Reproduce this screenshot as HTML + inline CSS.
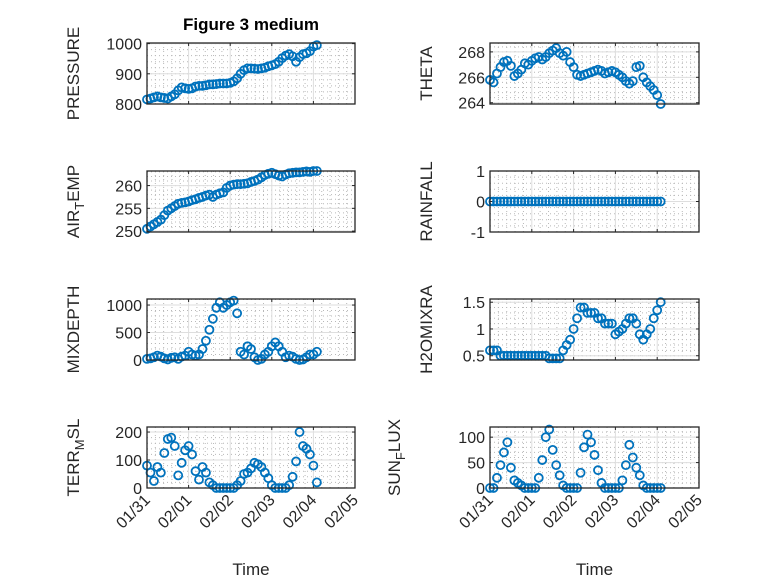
<!DOCTYPE html>
<html><head><meta charset="utf-8"><style>
body{margin:0;background:#fff}
svg{display:block;font-family:"Liberation Sans",sans-serif}
</style></head><body>
<svg id="fig" width="778" height="583" viewBox="0 0 778 583" xmlns="http://www.w3.org/2000/svg">
<rect width="778" height="583" fill="#fff"/>
<text x="251" y="30" text-anchor="middle" font-weight="bold" font-size="17" fill="#000">Figure 3 medium</text>
</svg>
<script>
const hours = Array.from({length:50},(_,i)=>i*2);
const pressure = [815,818,822,825,822,820,818,825,832,845,855,852,850,852,858,860,860,862,865,865,866,868,868,868,870,875,885,900,912,918,918,917,916,918,920,925,928,932,940,952,960,965,958,940,955,965,968,975,990,995];
const airTemp = [250.5,251,251.5,252,252.5,253.5,254.5,255,255.5,256,256.2,256.3,256.5,256.8,257,257.3,257.5,257.8,258,257.5,258,258.3,258.5,259.5,260,260.2,260.3,260.3,260.4,260.5,260.8,261,261.3,261.8,262.3,262.6,262.8,262.5,262.2,262,262.4,262.7,262.8,262.9,262.9,263,263.1,263,263.2,263.2];
const mixDepth = [20,30,50,80,60,30,10,40,50,20,60,80,150,100,80,100,200,350,550,750,950,1050,950,1000,1050,1080,850,150,100,250,200,50,0,20,100,150,250,320,250,150,50,80,60,20,0,10,50,100,100,150];
const terrMsl = [80,55,25,75,55,125,175,180,150,45,90,135,150,120,60,30,75,55,20,10,0,0,0,0,0,0,10,25,50,55,70,90,85,75,55,35,10,0,0,0,0,10,40,95,200,150,140,120,80,20];
const theta = [265.8,265.6,266.3,266.8,267.2,267.3,266.9,266.1,266.3,266.6,267.1,267.0,267.3,267.5,267.6,267.4,267.6,267.9,268.1,268.3,267.9,267.7,268.0,267.2,266.8,266.2,266.1,266.2,266.3,266.4,266.5,266.6,266.5,266.3,266.4,266.5,266.4,266.2,266.0,265.7,265.5,265.7,266.8,266.9,266.0,265.6,265.3,265.0,264.6,263.9];
const rainfall = new Array(50).fill(0);
const h2o = [0.6,0.6,0.6,0.5,0.5,0.5,0.5,0.5,0.5,0.5,0.5,0.5,0.5,0.5,0.5,0.5,0.5,0.45,0.45,0.45,0.45,0.6,0.7,0.8,1.0,1.2,1.4,1.4,1.3,1.3,1.3,1.2,1.2,1.1,1.1,1.1,0.9,0.95,1.0,1.1,1.2,1.2,1.1,0.9,0.8,0.9,1.0,1.2,1.35,1.5];
const sunFlux = [0,0,20,45,70,90,40,15,10,5,0,0,0,0,20,55,100,115,75,45,25,5,0,0,0,0,30,80,105,90,65,35,10,0,0,0,0,0,15,45,85,60,40,25,5,0,0,0,0,0];
const xTickLabels = ["01/31","02/01","02/02","02/03","02/04","02/05"];

const NS="http://www.w3.org/2000/svg";
const svg=document.getElementById('fig');
function mk(tag,attrs,parent){const e=document.createElementNS(NS,tag);for(const k in attrs)e.setAttribute(k,attrs[k]);(parent||svg).appendChild(e);return e;}

const panels=[
 {name:'pressure',data:pressure,lim:[800,1002],ticks:[800,900,1000],col:0,row:0,label:['PRESSURE'],lx:79},
 {name:'air-temp',data:airTemp,lim:[249.8,263.2],ticks:[250,255,260],col:0,row:1,label:['AIR','T','EMP'],lx:79},
 {name:'mixdepth',data:mixDepth,lim:[0,1110],ticks:[0,500,1000],col:0,row:2,label:['MIXDEPTH'],lx:79},
 {name:'terr-msl',data:terrMsl,lim:[0,218],ticks:[0,100,200],col:0,row:3,label:['TERR','M','SL'],lx:79},
 {name:'theta',data:theta,lim:[263.9,268.7],ticks:[264,266,268],col:1,row:0,label:['THETA'],lx:432},
 {name:'rainfall',data:rainfall,lim:[-1,1],ticks:[-1,0,1],col:1,row:1,label:['RAINFALL'],lx:432},
 {name:'h2omixra',data:h2o,lim:[0.42,1.56],ticks:[0.5,1,1.5],col:1,row:2,label:['H2OMIXRA'],lx:432},
 {name:'sun-flux',data:sunFlux,lim:[0,120],ticks:[0,50,100],col:1,row:3,label:['SUN','F','LUX'],lx:400},
];
const colX=[[147,355],[490,699]];
const rowY=[43,171,299,427];
const H=61;

panels.forEach(p=>{
 const [x0,x1]=colX[p.col];const y0=rowY[p.row];const y1=y0+H;
 const xs=h=>x0+(h/120)*(x1-x0);
 const ys=v=>y1-(v-p.lim[0])/(p.lim[1]-p.lim[0])*H;
 const g=mk('g',{});
 
 
 mk('rect',{x:x0,y:y0,width:x1-x0,height:H,fill:'#fff'},g);
 for(let d=0;d<5;d++)for(let m=1;m<5;m++){const x=xs(d*24+m*4.8);mk('line',{x1:x,x2:x,y1:y0,y2:y1,stroke:'#b8b8b8','stroke-width':1,'stroke-dasharray':'1,3'},g);}
 const step=p.ticks[1]-p.ticks[0];
 for(let v=p.ticks[0]-step;v<=p.lim[1]+step;v+=step/5){const y=ys(v);if(y>y0+0.5&&y<y1-0.5)mk('line',{x1:x0,x2:x1,y1:y,y2:y,stroke:'#b8b8b8','stroke-width':1,'stroke-dasharray':'1,3'},g);}
 for(let d=1;d<5;d++){const x=xs(d*24);mk('line',{x1:x,x2:x,y1:y0,y2:y1,stroke:'#dedede','stroke-width':1},g);}
 p.ticks.forEach(v=>{const y=ys(v);mk('line',{x1:x0,x2:x1,y1:y,y2:y,stroke:'#dedede','stroke-width':1},g);
  const t=mk('text',{x:x0-5,y:y+6,'text-anchor':'end','font-size':16,fill:'#262626'},g);t.textContent=String(v);
  
  
  mk('line',{x1:x0,x2:x0+3,y1:y,y2:y,stroke:'#262626'},g);mk('line',{x1:x1,x2:x1-3,y1:y,y2:y,stroke:'#262626'},g);});
 for(let d=0;d<=5;d++){const x=xs(d*24);mk('line',{x1:x,x2:x,y1:y1,y2:y1-3,stroke:'#262626'},g);mk('line',{x1:x,x2:x,y1:y0,y2:y0+3,stroke:'#262626'},g);}
 p.data.forEach((v,i)=>{const c=mk('circle',{cx:xs(hours[i]),cy:ys(v),r:4,fill:'none',stroke:'#0072BD','stroke-width':1.8},g);
  
  });
 mk('rect',{x:x0,y:y0,width:x1-x0,height:H,fill:'none',stroke:'#262626','stroke-width':1.3},g);
 const cy=y0+H/2;
 const t=mk('text',{x:p.lx,y:cy,'text-anchor':'middle','font-size':17,fill:'#262626',transform:`rotate(-90 ${p.lx} ${cy})`},g);
 
 
 if(p.label.length===1)t.textContent=p.label[0];
 else{const a=mk('tspan',{},t);a.textContent=p.label[0];const b=mk('tspan',{dy:5,'font-size':13},t);b.textContent=p.label[1];const c=mk('tspan',{dy:-5},t);c.textContent=p.label[2];}
 if(p.row===3){
  xTickLabels.forEach((lab,d)=>{const x=xs(d*24)+4,y=y1+13;
   const tt=mk('text',{x:x,y:y,'text-anchor':'end','font-size':16,fill:'#262626',transform:`rotate(-45 ${x} ${y})`},g);tt.textContent=lab;
   
   });
  const xl=mk('text',{x:(x0+x1)/2,y:575,'text-anchor':'middle','font-size':17,fill:'#262626'},g);xl.textContent='Time';
  
  
 }
});
</script>
</body></html>
